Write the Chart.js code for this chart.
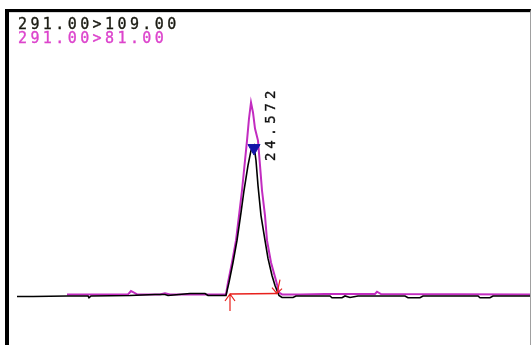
<!DOCTYPE html>
<html>
<head>
<meta charset="utf-8">
<script src="https://cdn.jsdelivr.net/npm/chart.js@4/dist/chart.umd.min.js"></script>
<style>
  html, body { margin: 0; padding: 0; background: #fff; }
  body { width: 531px; height: 345px; position: relative; overflow: hidden; }
  #frame {
    position: absolute; left: 5px; top: 9px;
    width: 521px; height: 333px;
    border-top: 3px solid #000; border-left: 4px solid #000; border-right: 1px solid #a0a0a0;
    box-shadow: inset 0 1px 0 #d8d8d8;
  }
  #frame canvas { display: block; }
  .trace-label {
    position: absolute; left: 9px;
    font-family: "DejaVu Sans Mono", monospace; font-size: 15px; line-height: 15px;
    letter-spacing: 3.4px; white-space: nowrap;
    -webkit-text-stroke: 0.35px currentColor;
  }
</style>
</head>
<body>
<div id="frame">
  <canvas id="chromCanvas" width="521" height="333"></canvas>
  <div class="trace-label" id="label0" style="top:5px;color:#1a1a12"></div>
  <div class="trace-label" id="label1" style="top:19px;color:#dc44cc"></div>
</div>
<script>
// transitions shown in the trace window
const traceNames = ['291.00>109.00', '291.00>81.00'];

// 291 > 109 (black)
const blackTimes = [22.20, 22.36, 22.70, 22.91, 22.92, 22.94, 23.33, 23.58, 23.68, 23.71, 23.93, 24.08, 24.11, 24.29,
  24.32, 24.36, 24.40, 24.44, 24.47, 24.51, 24.54, 24.57, 24.59, 24.61, 24.64, 24.68, 24.71, 24.75, 24.78, 24.82,
  24.85, 24.96, 24.99, 25.33, 25.35, 25.45, 25.48, 25.53, 25.61, 26.08, 26.11, 26.23, 26.26, 26.81, 26.83, 26.93, 26.96, 27.34];
const blackValues = [-0.7, -0.7, -0.3, -0.3, -1.5, -0.3, 0, 0.7, 0.7, 0, 1.3, 1.3, 0, 0,
  8.7, 22, 36.7, 55.3, 70, 86.7, 96.7, 100, 90, 73.3, 53.3, 36.7, 24.7, 13.3, 6.7, 0,
  -1.3, -1.3, -0.3, -0.3, -1.5, -1.5, -0.3, -1.3, -0.3, -0.3, -1.5, -1.5, -0.3, -0.3, -1.5, -1.5, -0.3, -0.3];

// 291 > 81 (magenta)
const magentaTimes = [22.70, 23.03, 23.31, 23.34, 23.37, 23.40, 23.63, 23.68, 23.73, 24.18, 24.29,
  24.31, 24.35, 24.39, 24.42, 24.45, 24.48, 24.50, 24.52, 24.54, 24.56, 24.58, 24.61, 24.63, 24.65, 24.68, 24.70,
  24.74, 24.79, 24.82, 24.85, 25.03, 25.28, 25.78, 25.80, 25.84, 27.34];
const magentaValues = [0.7, 0.7, 0.7, 3, 2, 0.7, 0.7, 1.5, 0.7, 0.7, 0.7,
  8.7, 22, 36.7, 53.3, 70, 90, 103.3, 118, 128.7, 122, 111.3, 103.3, 86.7, 70, 53.3, 36.7,
  22, 10, 2, 0.7, 0.7, 1, 1, 2.5, 1, 0.7];

// integration baseline (start, end)
const baselineTimes = [24.33, 24.80];
const baselineValues = [1, 1.3];

// apex marker + retention time label
const apexTimes = [24.57];
const apexValues = [98.3];
const apexLabels = ['24.572'];

const toPoints = (xs, ys) => xs.map((x, i) => ({ x: x, y: ys[i] }));

document.getElementById('label0').textContent = traceNames[0];
document.getElementById('label1').textContent = traceNames[1];

// arrows at the ends of the integration baseline and the rotated RT label
const peakMarks = {
  id: 'peakMarks',
  afterDatasetsDraw(chart) {
    const ctx = chart.ctx;
    const xs = chart.scales.x, ys = chart.scales.y;
    ctx.save();
    ctx.strokeStyle = '#e8201c';
    ctx.lineWidth = 1.2;
    // start arrow, pointing up
    let x = xs.getPixelForValue(baselineTimes[0]);
    let y = ys.getPixelForValue(baselineValues[0]);
    ctx.beginPath();
    ctx.moveTo(x, y); ctx.lineTo(x, y + 17);
    ctx.moveTo(x - 5, y + 7); ctx.lineTo(x, y); ctx.lineTo(x + 5, y + 7);
    ctx.stroke();
    // end arrow, pointing down
    x = xs.getPixelForValue(baselineTimes[1]);
    y = ys.getPixelForValue(baselineValues[1]);
    ctx.beginPath();
    ctx.moveTo(x, y); ctx.lineTo(x + 3, y - 14);
    ctx.moveTo(x - 5, y - 6); ctx.lineTo(x, y); ctx.lineTo(x + 5, y - 5);
    ctx.stroke();
    ctx.restore();

    // retention time, rotated
    ctx.save();
    x = xs.getPixelForValue(apexTimes[0]);
    y = ys.getPixelForValue(apexValues[0]);
    ctx.translate(x + 21, y + 13);
    ctx.rotate(-Math.PI / 2);
    ctx.font = '14px "DejaVu Sans Mono", monospace';
    ctx.fillStyle = '#111';
    ctx.strokeStyle = '#111';
    ctx.lineWidth = 0.35;
    ctx.textBaseline = 'alphabetic';
    const txt = apexLabels[0];
    for (let i = 0; i < txt.length; i++) {
      ctx.fillText(txt[i], i * 12.4, 0);
      ctx.strokeText(txt[i], i * 12.4, 0);
    }
    ctx.restore();
  }
};

new Chart(document.getElementById('chromCanvas'), {
  type: 'line',
  data: {
    datasets: [
      {
        type: 'scatter',
        label: 'apex',
        data: toPoints(apexTimes, apexValues),
        pointStyle: 'triangle',
        rotation: 180,
        pointRadius: 7,
        backgroundColor: '#1414a8',
        borderColor: '#1414a8',
        borderWidth: 1,
        order: 0
      },
      {
        label: 'baseline',
        data: toPoints(baselineTimes, baselineValues),
        borderColor: '#e8201c',
        borderWidth: 1.5,
        pointRadius: 0,
        order: 1
      },
      {
        label: traceNames[0],
        data: toPoints(blackTimes, blackValues),
        borderColor: '#000',
        borderWidth: 1.6,
        pointRadius: 0,
        order: 2
      },
      {
        label: traceNames[1],
        data: toPoints(magentaTimes, magentaValues),
        borderColor: '#c22cc0',
        borderWidth: 2,
        pointRadius: 0,
        order: 3
      }
    ]
  },
  options: {
    responsive: false,
    animation: false,
    layout: { padding: 0, autoPadding: false },
    scales: {
      x: { type: 'linear', min: 22.12, max: 27.33, display: false },
      y: { min: -33, max: 189, display: false }
    },
    plugins: {
      legend: { display: false },
      tooltip: { enabled: false }
    }
  },
  plugins: [peakMarks]
});
</script>
</body>
</html>
